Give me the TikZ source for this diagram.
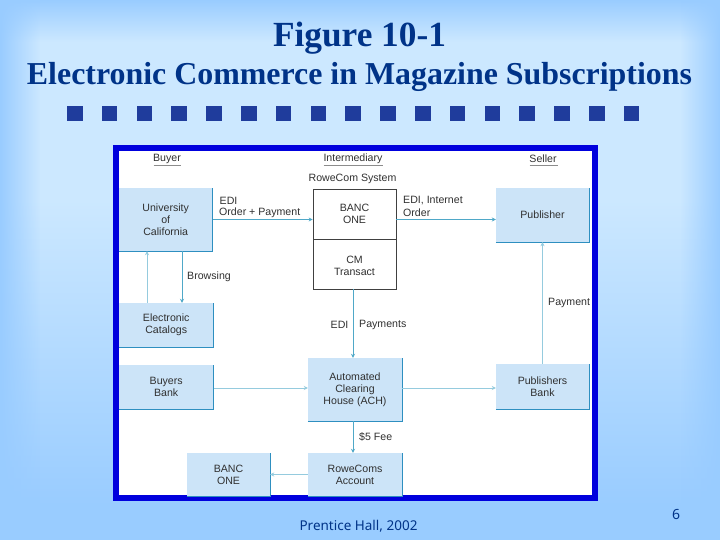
\documentclass[tikz,border=0pt]{standalone}
\usepackage{fontspec}
\setmainfont{Liberation Sans}
\newfontfamily\titlefont{Liberation Serif}
\newfontfamily\notefont{Noto Sans}
\usetikzlibrary{arrows.meta,fadings}
\definecolor{outerbg}{HTML}{99CCFF}
\definecolor{innerbg}{HTML}{CCE8FF}
\definecolor{titleblue}{HTML}{003388}
\definecolor{squareblue}{HTML}{1F3C9C}
\definecolor{frameblue}{HTML}{0000DD}
\definecolor{boxfill}{HTML}{CCE4F8}
\definecolor{boxedge}{HTML}{2E8FC0}
\definecolor{linkcol}{HTML}{4FA8C8}
\definecolor{txtcol}{HTML}{303030}
\tikzset{
  x=1pt,y=-1pt,
  lbl/.style={font=\fontsize{10.6}{12.2}\selectfont,text=txtcol,inner sep=0pt,align=center},
  colhead/.style={lbl},
  bluebox/.style={fill=boxfill,draw=none,inner sep=0pt,lbl},
  whitebox/.style={fill=white,draw=black!75,line width=.7pt,inner sep=0pt,lbl},
  link/.style={draw=linkcol,line width=.8pt,-{Stealth[length=4pt,width=4pt]}},
  faint/.style={draw=linkcol!60,line width=.7pt,-{Stealth[length=4pt,width=4pt]}},
  square/.style={fill=squareblue,draw=none,minimum size=15.5pt,inner sep=0pt}
}
% name, centre x, centre y, width, height, text
\newcommand{\bbox}[6]{%
  \node[bluebox,minimum width=#4pt,minimum height=#5pt] (#1) at (#2,#3) {#6};
  \draw[boxedge,line width=1pt] (#1.south west) -- (#1.south east) -- (#1.north east);
}
\begin{document}
\begin{tikzpicture}
\useasboundingbox (0,0) rectangle (720,540);
% background
\fill[outerbg] (0,0) rectangle (720,540);
\shade[top color=outerbg,bottom color=innerbg] (0,0) rectangle (720,42);
\fill[innerbg] (0,42) rectangle (720,200);
\shade[top color=innerbg,bottom color=outerbg] (0,200) rectangle (720,505);
\fill[outerbg,path fading=east] (0,0) rectangle (40,540);
\fill[outerbg,path fading=west] (680,0) rectangle (720,540);
% titles
\node[font=\titlefont\bfseries\fontsize{35.3}{40}\selectfont,text=titleblue,inner sep=0pt,anchor=base] (t1) at (359.5,46.5) {Figure 10-1};
\node[font=\titlefont\bfseries\fontsize{31.9}{36}\selectfont,text=titleblue,inner sep=0pt,anchor=base] (t2) at (359.5,84.5) {Electronic Commerce in Magazine Subscriptions};
% squares
\foreach \i in {0,...,16}{\node[square] (sq\i) at ({74.8+34.8*\i},113.5) {};}
% frame
\draw[frameblue,line width=6pt,fill=white] (116,148) rectangle (595,498);
% column heads
\node[colhead] (hbuyer) at (167,158.5) {Buyer};
\node[colhead] (hinter) at (353,158.5) {Intermediary};
\node[colhead] (hseller) at (543,158.5) {Seller};
\draw[black!45,line width=.7pt] (153.5,165.5) -- (181,165.5) (323.5,165.5) -- (383,165.5) (529.5,165.5) -- (558,165.5);
\node[lbl] (hrowe) at (352.5,178.5) {RoweCom System};
% blue boxes
\bbox{uc}{165.7}{219.5}{93.5}{63}{University\\of\\California}
\bbox{ec}{166.2}{325}{94.5}{44}{Electronic\\Catalogs}
\bbox{bb}{166.2}{387}{94.5}{44}{Buyers\\Bank}
\bbox{ach}{355}{389.5}{94}{63}{Automated\\Clearing\\House (ACH)}
\bbox{acct}{355}{474.5}{94}{43}{RoweComs\\Account}
\bbox{bo}{228.5}{474.5}{83}{43}{BANC\\ONE}
\bbox{pub}{542.5}{215}{93}{54}{Publisher}
\bbox{pb}{542.5}{386.5}{93}{45}{Publishers\\Bank}
% RoweCom system
\node[whitebox,minimum width=83pt,minimum height=50pt] (banc) at (354.5,214) {BANC\\ONE};
\node[whitebox,minimum width=83pt,minimum height=50pt] (cm) at (354.5,264) {\mbox{}\\[-0.8pt]CM\\Transact};
% connectors
\draw[link] (uc.east) -- (uc.east -| banc.west);
\draw[link] (uc.east -| banc.east) -- (uc.east -| pub.west);
\draw[faint] ([xshift=-18.7pt]uc.south |- ec.north) -- ([xshift=-18.7pt]uc.south);
\draw[link] ([xshift=16.3pt]uc.south) -- ([xshift=16.3pt]uc.south |- ec.north);
\draw[link] (cm.south -| 353,0) -- (ach.north -| 353,0);
\draw[link] (ach.south -| 353,0) -- (acct.north -| 353,0);
\draw[faint] (acct.west) -- (bo.east);
\draw[faint] (bb.east |- 0,388) -- (ach.west |- 0,388);
\draw[faint] (ach.east |- 0,388) -- (pb.west |- 0,388);
\draw[faint] (pb.north) -- (pub.south);
% labels
\node[lbl,anchor=west] (l1) at (219.5,200.5) {EDI};
\node[lbl,anchor=west] (l2) at (219,212.5) {Order + Payment};
\node[lbl,anchor=west] (l3) at (403,200.5) {EDI, Internet};
\node[lbl,anchor=west] (l4) at (403,212.5) {Order};
\node[lbl,anchor=west] (l5) at (187,276.5) {Browsing};
\node[lbl,anchor=west] (l6) at (330.5,324.5) {EDI};
\node[lbl,anchor=west] (l7) at (359,324.5) {Payments};
\node[lbl,anchor=west] (l8) at (548,303) {Payment};
\node[lbl,anchor=west] (l9) at (359,436.5) {\$5 Fee};
% footer
\node[font=\notefont\fontsize{13.5}{16}\selectfont,text=titleblue,inner sep=0pt] (f1) at (358.5,526) {Prentice Hall, 2002};
\node[font=\notefont\fontsize{14}{16}\selectfont,text=titleblue,inner sep=0pt] (f2) at (676,514) {6};
\end{tikzpicture}
\end{document}
